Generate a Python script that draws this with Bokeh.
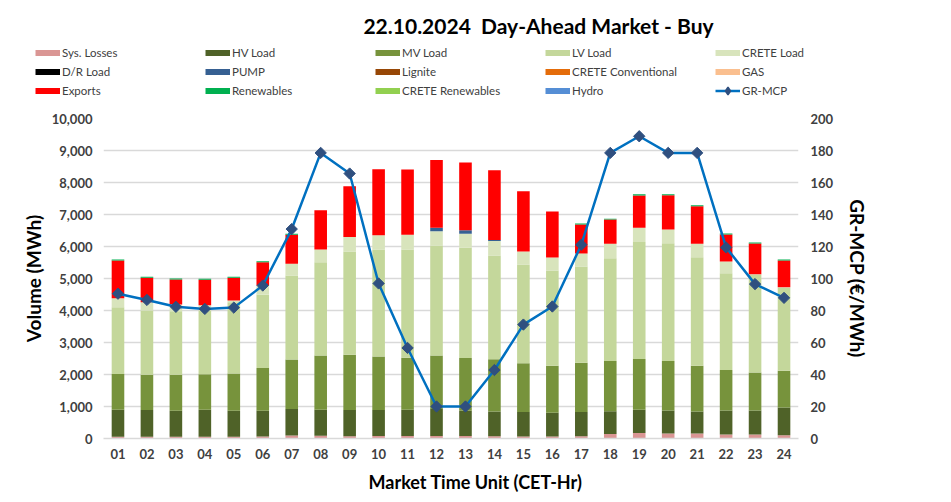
import numpy as np
from bokeh.plotting import figure
from bokeh.layouts import column
from bokeh.models import (Range1d, LinearAxis, Legend, LegendItem, Label,
                          NumeralTickFormatter, FixedTicker, ColumnDataSource)
from bokeh.embed import file_html
from bokeh.resources import INLINE

# ---------------- data ----------------
hours = [f"{i:02d}" for i in range(1, 25)]

sys_losses = [55, 55, 55, 55, 55, 60, 90, 85, 70, 75, 75, 75, 75, 70, 60, 60, 70, 140, 170, 155, 155, 125, 125, 105]
hv_load = [845, 835, 815, 845, 815, 810, 830, 815, 820, 815, 825, 845, 795, 775, 765, 745, 755, 715, 730, 720, 690, 750, 750, 865]
mv_load = [1115, 1105, 1125, 1105, 1165, 1330, 1545, 1690, 1730, 1670, 1625, 1670, 1645, 1630, 1525, 1470, 1545, 1565, 1585, 1545, 1430, 1265, 1190, 1150]
lv_load = [2085, 2005, 1985, 1995, 2225, 2290, 2630, 2920, 3225, 3350, 3385, 3445, 3445, 3245, 3090, 2975, 3005, 3216, 3652, 3685, 3392, 3026, 3060, 2590]
crete_load = [285, 258, 210, 165, 51, 290, 365, 400, 450, 440, 460, 445, 440, 450, 405, 405, 405, 450, 450, 429, 419, 366, 11, 18]
dr_load = [0] * 24
pump = [0, 0, 0, 0, 0, 0, 0, 0, 0, 0, 0, 107, 105, 30, 0, 0, 0, 0, 0, 0, 0, 0, 0, 0]
lignite = [0] * 24
crete_conv = [0] * 24
gas = [0] * 24
exports = [1180, 764, 780, 795, 711, 730, 910, 1220, 1585, 2063, 2033, 2117, 2117, 2181, 1879, 1435, 910, 754, 1003, 1066, 1169, 846, 960, 836]
renewables = [30, 31, 30, 30, 31, 32, 30, 0, 0, 0, 0, 0, 0, 0, 0, 0, 30, 30, 40, 30, 31, 31, 31, 31]
crete_ren = [0] * 24
hydro = [0] * 24
gr_mcp = [90.5, 86.6, 82.3, 81.0, 81.8, 95.6, 130.9, 178.5, 165.6, 96.9, 56.6, 20.0, 20.0, 42.8,
          71.2, 82.5, 121.1, 178.5, 188.9, 178.5, 178.5, 119.4, 96.5, 87.9]

series_labels = ["Sys. Losses", "HV Load", "MV Load", "LV Load", "CRETE Load",
                 "D/R Load", "PUMP", "Lignite", "CRETE Conventional", "GAS",
                 "Exports", "Renewables", "CRETE Renewables", "Hydro"]
series_values = [sys_losses, hv_load, mv_load, lv_load, crete_load,
                 dr_load, pump, lignite, crete_conv, gas,
                 exports, renewables, crete_ren, hydro]
series_colors = ["#DA9694", "#4F6228", "#77933C", "#C4D79B", "#D8E4BC",
                 "#000000", "#366092", "#974706", "#E46C0A", "#FABF8F",
                 "#FF0000", "#00B050", "#92D050", "#558ED5"]

vol_ticks = list(range(0, 10001, 1000))
mcp_ticks = list(range(0, 201, 20))

title_text = "22.10.2024\u00a0 Day-Ahead Market - Buy"
x_title = "Market Time Unit (CET-Hr)"
y_title = "Volume (MWh)"
y2_title = "GR-MCP (€/MWh)"

FONT = "Lato"
TXT = "#404040"
LINE_C = "#0070C0"
MARK_C = "#2F4F7F"
W = 945

# ---------------- header: title + legend ----------------
hdr = figure(width=W, height=100, x_range=Range1d(0, 1), y_range=Range1d(0, 1),
             min_border=0, x_axis_type=None, y_axis_type=None,
             output_backend="svg", toolbar_location=None,
             outline_line_color=None)
hdr.frame_align = False
hdr.grid.visible = False

items = []
for lab, col in zip(series_labels, series_colors):
    r = hdr.line(x=[-5, -4], y=[-5, -4], line_color=col, line_width=6)
    items.append(LegendItem(label=lab, renderers=[r]))
lg_line = hdr.line(x=[-5, -4], y=[-5, -4], line_color=LINE_C, line_width=2.5)
lg_pts = hdr.scatter(x=[-5], y=[-5], marker="diamond", size=8,
                     fill_color=MARK_C, line_color=MARK_C, line_width=1.5)
items.append(LegendItem(label="GR-MCP", renderers=[lg_line, lg_pts]))

legend = Legend(items=items, location=(35, 0), orientation="horizontal", ncols=5,
                glyph_width=25, glyph_height=19, label_height=19, label_width=143,
                label_standoff=2, spacing=0, padding=0, margin=0,
                border_line_color=None, background_fill_alpha=0,
                label_text_font=FONT, label_text_font_size="11.5px",
                label_text_color=TXT)
hdr.add_layout(legend)

hdr.add_layout(Label(x=538, y=75, x_units="screen", y_units="screen",
                     text=title_text, text_align="center", text_baseline="middle",
                     text_font=FONT, text_font_style="bold",
                     text_font_size="21px", text_color="black"))

# ---------------- main chart ----------------
keys = [f"s{i}" for i in range(len(series_labels))]
data = {"hour": hours, "mcp": gr_mcp}
for k, v in zip(keys, series_values):
    data[k] = v
src = ColumnDataSource(data)

p = figure(x_range=hours, y_range=Range1d(0, 10000),
           frame_width=695, frame_height=320,
           min_border_left=103, min_border_right=W - 103 - 695,
           min_border_top=18, min_border_bottom=30,
           output_backend="svg", toolbar_location=None,
           outline_line_color=None)
p.frame_align = False

p.extra_y_ranges = {"mcp": Range1d(0, 200)}

p.vbar_stack(keys, x="hour", width=0.435, source=src,
             fill_color=series_colors, line_color=None)

p.line(x="hour", y="mcp", source=src, y_range_name="mcp",
       line_color=LINE_C, line_width=2.5)
p.scatter(x="hour", y="mcp", source=src, y_range_name="mcp",
          marker="square", angle=np.pi / 4, size=8,
          fill_color=MARK_C, line_color=MARK_C)

p.yaxis.ticker = FixedTicker(ticks=vol_ticks)
p.yaxis.formatter = NumeralTickFormatter(format="0,0")
p.yaxis.axis_label = y_title
p.ygrid.ticker = FixedTicker(ticks=vol_ticks)
p.ygrid.grid_line_color = "#D9D9D9"
p.ygrid.grid_line_width = 1.5
p.xgrid.visible = False

ax2 = LinearAxis(y_range_name="mcp", ticker=FixedTicker(ticks=mcp_ticks),
                 axis_label=y2_title)
p.add_layout(ax2, "right")

for ax in [p.yaxis[0], ax2, p.xaxis[0]]:
    ax.major_tick_line_color = None
    ax.minor_tick_line_color = None
    ax.major_tick_out = 0
    ax.major_tick_in = 0
    ax.minor_tick_out = 0
    ax.minor_tick_in = 0
    ax.major_label_text_font = FONT
    ax.major_label_text_font_style = "bold"
    ax.major_label_text_font_size = "13px"
    ax.major_label_text_color = TXT
    ax.axis_label_text_font = FONT
    ax.axis_label_text_font_style = "bold"
    ax.axis_label_text_font_size = "19px"
    ax.axis_label_text_color = "black"

p.yaxis[0].axis_line_color = None
p.yaxis[0].major_label_standoff = 11
p.yaxis[0].axis_label_standoff = 4
ax2.axis_line_color = None
ax2.major_label_standoff = 12
ax2.axis_label_standoff = 10

xa = p.xaxis[0]
xa.axis_line_color = "#D9D9D9"
xa.axis_line_width = 1.5
xa.major_label_standoff = 10

# ---------------- footer: x-axis title ----------------
ftr = figure(width=W, height=27, x_range=Range1d(0, 1), y_range=Range1d(0, 1),
             min_border=0, x_axis_type=None, y_axis_type=None,
             output_backend="svg", toolbar_location=None,
             outline_line_color=None)
ftr.frame_align = False
ftr.grid.visible = False
ftr.add_layout(Label(x=475, y=14, x_units="screen", y_units="screen",
                     text=x_title, text_align="center", text_baseline="middle",
                     text_font=FONT, text_font_style="bold",
                     text_font_size="18px", text_color="black"))

open("out.html", "w").write(file_html(column(hdr, p, ftr), INLINE))
